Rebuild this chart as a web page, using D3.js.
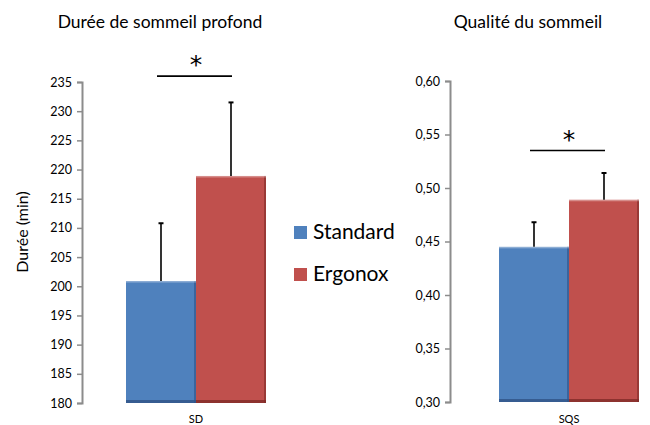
<!DOCTYPE html>
<html>
<head>
<meta charset="utf-8">
<script src="https://cdn.jsdelivr.net/npm/d3@7"></script>
<style>
  body { margin: 0; background: #fff; }
  text { font-family: Lato, "Open Sans", sans-serif; fill: #000; }
</style>
</head>
<body>
<div class="canvas"></div>
<script>
// data
const series = ['Standard', 'Ergonox'];
const sdMeans = [200.9, 218.9];
const sdErrors = [9.9, 12.6];
const sdTicks = [180, 185, 190, 195, 200, 205, 210, 215, 220, 225, 230, 235];
const sdSig = 236;
const sqsMeans = [0.445, 0.489];
const sqsErrors = [0.023, 0.025];
const sqsTicks = [0.30, 0.35, 0.40, 0.45, 0.50, 0.55, 0.60];
const sqsSig = 0.535;

const colors = ['#4f81bd', '#c0504d'];
const darks = ['#2f5286', '#7f2a28'];

const svg = d3.select('.canvas')
    .append('svg')
    .attr('width', 650)
    .attr('height', 425);

function panel(opt) {
    const g = svg.append('g');

    const y = d3.scaleLinear()
        .domain(opt.domain)
        .range([opt.bottom, opt.top]);

    const x0 = d3.scaleBand()
        .domain([opt.cat])
        .range(opt.xr);

    const x = d3.scaleBand()
        .domain(series)
        .range([0, x0.bandwidth()]);

    // axis
    const axis = d3.axisLeft(y)
        .tickValues(opt.ticks)
        .tickSize(5)
        .tickPadding(5)
        .tickFormat(opt.fmt);

    const ax = g.append('g')
        .attr('transform', `translate(${opt.axisX},0)`)
        .call(axis);
    ax.select('.domain').attr('stroke', '#8c8c8c').attr('stroke-width', 2);
    ax.selectAll('.tick line').attr('stroke', '#8c8c8c').attr('stroke-width', 1.5);
    ax.selectAll('.tick text')
        .style('font-family', 'Lato, sans-serif')
        .style('font-size', '12.5px')
        .attr('fill', '#000');

    const rows = series.map((s, i) => ({ s, i, v: opt.means[i], e: opt.errors[i] }));

    // bars
    const bars = g.selectAll('g.bar')
        .data(rows)
        .enter()
        .append('g')
        .attr('class', 'bar');

    bars.append('rect')
        .attr('x', d => x0(opt.cat) + x(d.s))
        .attr('y', d => y(d.v))
        .attr('width', x.bandwidth())
        .attr('height', d => y(opt.domain[0]) - y(d.v))
        .attr('fill', d => colors[d.i]);

    // bevel look
    bars.append('rect')
        .attr('x', d => x0(opt.cat) + x(d.s))
        .attr('y', d => y(opt.domain[0]) - 3)
        .attr('width', x.bandwidth())
        .attr('height', 3)
        .attr('fill', d => darks[d.i])
        .attr('opacity', 0.8);
    bars.append('rect')
        .attr('x', d => x0(opt.cat) + x(d.s) + x.bandwidth() - 2)
        .attr('y', d => y(d.v))
        .attr('width', 2)
        .attr('height', d => y(opt.domain[0]) - y(d.v))
        .attr('fill', d => darks[d.i])
        .attr('opacity', 0.6);
    bars.append('rect')
        .attr('x', d => x0(opt.cat) + x(d.s))
        .attr('y', d => y(d.v))
        .attr('width', x.bandwidth())
        .attr('height', 1.5)
        .attr('fill', '#fff')
        .attr('opacity', 0.35);

    // error bars
    const cx = d => x0(opt.cat) + x(d.s) + x.bandwidth() / 2;
    bars.append('line')
        .attr('x1', cx).attr('x2', cx)
        .attr('y1', d => y(d.v))
        .attr('y2', d => y(d.v + d.e))
        .attr('stroke', '#000')
        .attr('stroke-width', 1.6);
    bars.append('line')
        .attr('x1', d => cx(d) - 2.5).attr('x2', d => cx(d) + 2.5)
        .attr('y1', d => y(d.v + d.e))
        .attr('y2', d => y(d.v + d.e))
        .attr('stroke', '#000')
        .attr('stroke-width', 2);

    // significance
    g.append('line')
        .attr('x1', cx(rows[0]) - 4)
        .attr('x2', cx(rows[1]) + 1)
        .attr('y1', y(opt.sig))
        .attr('y2', y(opt.sig))
        .attr('stroke', '#000')
        .attr('stroke-width', 1.6);
    g.append('text')
        .attr('x', (cx(rows[0]) + cx(rows[1])) / 2)
        .attr('y', y(opt.sig) - 3)
        .attr('text-anchor', 'middle')
        .style('font-size', '25px')
        .style('font-family', '"DejaVu Sans", sans-serif')
        .text('*');

    // category label
    g.append('text')
        .attr('x', x0(opt.cat) + x0.bandwidth() / 2)
        .attr('y', 423)
        .attr('text-anchor', 'middle')
        .style('font-size', '11px')
        .text(opt.cat);

    // title
    g.append('text')
        .attr('x', opt.titleX)
        .attr('y', 28)
        .attr('text-anchor', 'middle')
        .style('font-size', '17.5px')
        .text(opt.title);

    return y;
}

panel({
    cat: 'SD', domain: [180, 235], top: 82, bottom: 403, xr: [126, 266], axisX: 82,
    ticks: sdTicks, means: sdMeans, errors: sdErrors, sig: sdSig,
    fmt: d3.format('d'), title: 'Durée de sommeil profond', titleX: 160
});

panel({
    cat: 'SQS', domain: [0.30, 0.60], top: 81, bottom: 402, xr: [499, 639], axisX: 450,
    ticks: sqsTicks, means: sqsMeans, errors: sqsErrors, sig: sqsSig,
    fmt: d => d3.format('.2f')(d).replace('.', ','), title: 'Qualité du sommeil', titleX: 528
});

// y label
svg.append('text')
    .attr('transform', 'translate(28,232) rotate(-90)')
    .attr('text-anchor', 'middle')
    .style('font-size', '16px')
    .text('Durée (min)');

// legend
const legend = svg.selectAll('g.legend')
    .data(series)
    .enter()
    .append('g')
    .attr('class', 'legend')
    .attr('transform', (d, i) => `translate(294,${226 + i * 42})`);

legend.append('rect')
    .attr('width', 13)
    .attr('height', 13)
    .attr('fill', (d, i) => colors[i]);

legend.append('text')
    .attr('x', 19)
    .attr('y', 13)
    .style('font-size', '21px')
    .text(d => d);
</script>
</body>
</html>
